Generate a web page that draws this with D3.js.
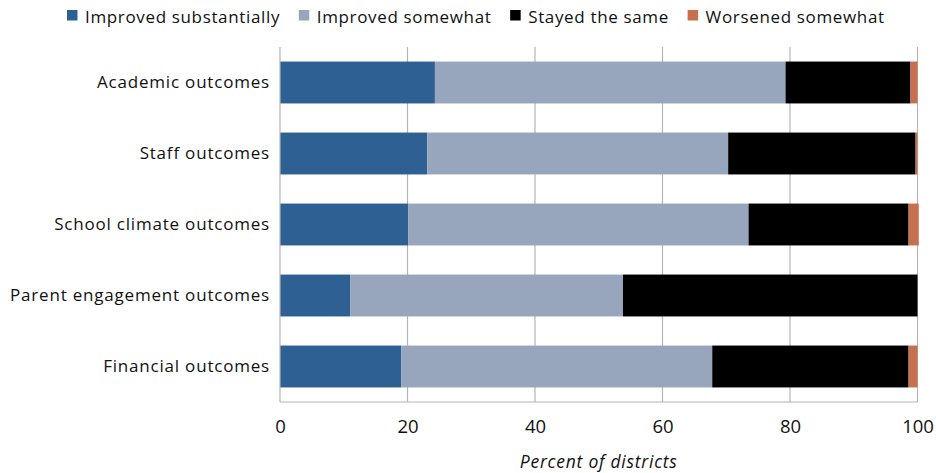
<!DOCTYPE html>
<html><head><meta charset="utf-8">
<script src="https://cdn.jsdelivr.net/npm/d3@7"></script>
<style>body{margin:0;background:#fff}</style>
</head><body><svg id="c" width="936" height="473"></svg>
<script>
const categories = ["Academic outcomes","Staff outcomes","School climate outcomes","Parent engagement outcomes","Financial outcomes"];
const seriesNames = ["Improved substantially","Improved somewhat","Stayed the same","Worsened somewhat"];
const improvedSubstantially = [24.3, 23.1, 20.1, 11.0, 19.0];
const improvedSomewhat = [55.0, 47.2, 53.4, 42.8, 48.8];
const stayedSame = [19.6, 29.4, 25.1, 46.2, 30.8];
const worsenedSomewhat = [1.1, 0.3, 1.6, 0.0, 1.4];
const xTicks = [0,20,40,60,80,100];
const colors = ["#2e6094","#97a6bd","#000000","#c7704f"];

const font = "'Open Sans', sans-serif";
const svg = d3.select("#c");
const m = {l:280, r:936-917.5, t:47, b:473-402};
const W = 936, H = 473;
const x = d3.scaleLinear().domain([0,100]).range([m.l, W-m.r]);
const y = d3.scaleBand().domain(categories).range([m.t, H-m.b]).paddingInner(0.41).paddingOuter(0.205);

const rows = categories.map((c,i)=>({cat:c, v:[improvedSubstantially[i],improvedSomewhat[i],stayedSame[i],worsenedSomewhat[i]]}));
const data = rows.map(r=>{const o={cat:r.cat}; seriesNames.forEach((s,j)=>o[s]=r.v[j]); return o;});
const stack = d3.stack().keys(seriesNames)(data);

// grid
svg.append("g").selectAll("line").data(xTicks.slice(1)).join("line")
  .attr("x1",d=>x(d)).attr("x2",d=>x(d)).attr("y1",m.t).attr("y2",H-m.b)
  .attr("stroke","#b5b5b5").attr("stroke-width",1.2);

svg.append("g").selectAll("g").data(stack).join("g").attr("fill",(d,i)=>colors[i])
  .selectAll("rect").data(d=>d).join("rect")
  .attr("x",d=>x(d[0])).attr("width",d=>Math.max(0,x(d[1])-x(d[0])))
  .attr("y",d=>y(d.data.cat)).attr("height",y.bandwidth());

// axes lines
svg.append("line").attr("x1",m.l).attr("x2",W-m.r).attr("y1",H-m.b).attr("y2",H-m.b).attr("stroke","#b5b5b5").attr("stroke-width",1.2);
svg.append("line").attr("x1",m.l).attr("x2",m.l).attr("y1",m.t).attr("y2",H-m.b).attr("stroke","#b5b5b5").attr("stroke-width",1.2);

const xa = svg.append("g").attr("transform",`translate(0,${H-m.b})`)
  .call(d3.axisBottom(x).tickValues(xTicks).tickSize(0).tickPadding(18));
xa.select(".domain").remove();
xa.selectAll("text").attr("font-family",font).attr("font-size",18.5).attr("fill","#111");

const ya = svg.append("g").attr("transform",`translate(${m.l},0)`)
  .call(d3.axisLeft(y).tickSize(0).tickPadding(10));
ya.select(".domain").remove();
ya.selectAll("text").attr("font-family",font).attr("font-size",17).attr("letter-spacing","0.8px").attr("fill","#111");

svg.append("text").attr("x",(x(0)+x(100))/2).attr("y",468).attr("text-anchor","middle")
  .attr("font-family",font).attr("font-size",17.5).attr("letter-spacing","0.75px").attr("font-style","italic").attr("fill","#111").text("Percent of districts");

// legend
const lg = svg.append("g");
let lx = 67;
seriesNames.forEach((s,i)=>{
  const g = lg.append("g").attr("transform",`translate(${lx},0)`);
  g.append("rect").attr("x",0).attr("y",10).attr("width",10.5).attr("height",10.5).attr("fill",colors[i]);
  const t = g.append("text").attr("x",18).attr("y",22.5).attr("font-family",font).attr("font-size",17).attr("letter-spacing","0.65px").attr("fill","#111").text(s);
  lx += 18 + t.node().getComputedTextLength() + 18.7;
});
</script></body></html>
